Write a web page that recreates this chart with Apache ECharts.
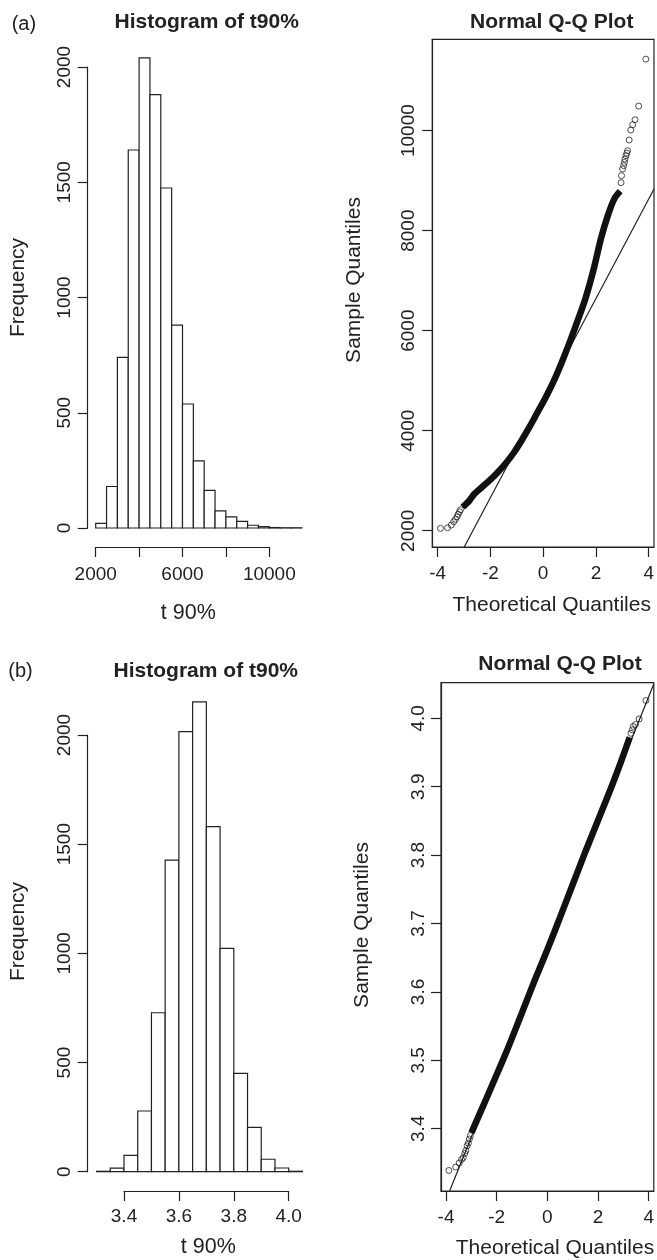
<!DOCTYPE html>
<html>
<head>
<meta charset="utf-8">
<script src="https://cdn.jsdelivr.net/npm/echarts@6/dist/echarts.min.js"></script>
<style>
html,body{margin:0;padding:0;background:#fff;}
#c{width:657px;height:1260px;}
</style>
</head>
<body>
<div id="c"></div>
<script>
// ---------------- DATA ----------------
// (a) histogram of t90%
const histA_edges = [2000,2500,3000,3500,4000,4500,5000,5500,6000,6500,7000,7500,8000,8500,9000,9500,10000,10500,11000,11500];
const histA_counts = [20,180,740,1640,2040,1880,1475,880,538,291,163,74,48,29,12,6,2,1,1];
const histA_xTicks = [2000,4000,6000,8000,10000];
const histA_xLabels = [2000,6000,10000];
const hist_yTicks = [0,500,1000,1500,2000];

// (b) histogram of t90% (log scale values)
const histB_edges = [3.30,3.35,3.40,3.45,3.50,3.55,3.60,3.65,3.70,3.75,3.80,3.85,3.90,3.95,4.00,4.05];
const histB_counts = [2,16,75,278,728,1427,2015,2152,1580,1023,450,203,57,17,2];
const histB_xTicks = [3.4,3.6,3.8,4.0];

// (a) Normal Q-Q: dense band (theoretical, sample) and sparse tail points
const qqA_bandQ = [-3.05,-2.8,-2.6,-2.3,-2.0,-1.7,-1.4,-1.1,-0.8,-0.5,-0.2,0.1,0.4,0.7,1.0,1.3,1.6,1.9,2.2,2.45,2.7,2.92];
const qqA_bandS = [2470,2600,2740,2880,3020,3180,3360,3570,3820,4090,4380,4670,4990,5360,5760,6190,6640,7200,7860,8300,8640,8790];
const qqA_tailQ = [-3.89,-3.62,-3.48,-3.39,-3.32,-3.26,-3.22,-3.17,-3.13,2.95,2.97,3.01,3.05,3.08,3.10,3.14,3.17,3.20,3.26,3.32,3.39,3.48,3.62,3.89];
const qqA_tailS = [2048,2060,2114,2180,2230,2280,2330,2380,2420,8960,9100,9234,9300,9365,9430,9499,9550,9599,9812,10012,10118,10218,10491,11429];
const qqA_lineQ = [-2.99,4.2];
const qqA_lineS = [1675,8834];
const qqA_xTicks = [-4,-2,0,2,4];
const qqA_yTicks = [2000,4000,6000,8000,10000];

// (b) Normal Q-Q
const qqB_bandQ = [-3.0,-2.6,-2.2,-1.6,-1.0,-0.5,0,0.5,1.0,1.5,2.0,2.5,2.9,3.25];
const qqB_bandS = [3.394,3.428,3.462,3.514,3.570,3.617,3.662,3.709,3.757,3.805,3.851,3.897,3.936,3.972];
const qqB_tailQ = [-3.89,-3.62,-3.48,-3.39,-3.32,-3.26,-3.22,-3.17,-3.12,-3.08,-3.04,3.30,3.35,3.39,3.48,3.62,3.89];
const qqB_tailS = [3.339,3.344,3.350,3.355,3.358,3.364,3.368,3.375,3.379,3.385,3.390,3.978,3.983,3.988,3.991,3.999,4.026];
const qqB_lineQ = [-3.86,4.2];
const qqB_lineS = [3.309,4.050];
const qqB_xTicks = [-4,-2,0,2,4];
const qqB_yTicks = [3.4,3.5,3.6,3.7,3.8,3.9,4.0];

// ---------------- CHART ----------------
const FONT = '"Liberation Sans", Arial, Helvetica, sans-serif';
const INK = '#222';
const chart = echarts.init(document.getElementById('c'), null, {renderer: 'canvas'});
const zip = (a, b) => a.map((v, i) => [v, b[i]]);

function histSeries(edges, counts, gi) {
  return {
    type: 'custom', xAxisIndex: gi, yAxisIndex: gi, clip: false,
    data: counts.map((c, i) => [edges[i], edges[i + 1], c]),
    encode: {x: [0, 1], y: 2},
    renderItem(params, api) {
      const p0 = api.coord([api.value(0), api.value(2)]);
      const p1 = api.coord([api.value(1), 0]);
      return {
        type: 'rect',
        shape: {x: p0[0], y: p0[1], width: p1[0] - p0[0], height: p1[1] - p0[1]},
        style: {fill: '#fff', stroke: INK, lineWidth: 1.2}
      };
    }
  };
}

function xAxisDef(gi, min, max, ticks, labels, offset, margin, fmt) {
  return {
    gridIndex: gi, type: 'value', min, max, offset, position: 'bottom',
    axisLine: {show: true, onZero: false, lineStyle: {color: INK, width: 1.2}},
    axisTick: {show: true, inside: false, length: 10, customValues: ticks, lineStyle: {color: INK, width: 1.2}},
    axisLabel: {customValues: labels, fontSize: 19, color: INK, margin, fontFamily: FONT, formatter: fmt},
    splitLine: {show: false}
  };
}
function yAxisDef(gi, min, max, ticks, offset, margin, fmt) {
  return {
    gridIndex: gi, type: 'value', min, max, offset, position: 'left',
    axisLine: {show: true, onZero: false, lineStyle: {color: INK, width: 1.2}},
    axisTick: {show: true, inside: false, length: 10, customValues: ticks, lineStyle: {color: INK, width: 1.2}},
    axisLabel: {customValues: ticks, rotate: 90, fontSize: 19, color: INK, margin, fontFamily: FONT, formatter: fmt},
    splitLine: {show: false}
  };
}

const intFmt = v => String(Math.round(v));
const dec1 = v => v.toFixed(1);

function txt(text, x, y, size, weight, align, rot) {
  return {
    type: 'text', x, y, rotation: rot ? Math.PI / 2 : 0, silent: true,
    style: {text, fill: INK, fontSize: size, fontWeight: weight, fontFamily: FONT,
            align, verticalAlign: 'middle', textAlign: align, textVerticalAlign: 'middle'}
  };
}

const option = {
  animation: false,
  backgroundColor: '#fff',
  textStyle: {fontFamily: FONT},
  grid: [
    {left: 95.7, top: 67, width: 173.6, height: 461},
    {left: 432.3, top: 39.3, width: 222.7, height: 507.7, show: true, borderColor: INK, borderWidth: 1.2, backgroundColor: 'transparent'},
    {left: 124, top: 735, width: 164.7, height: 436.7},
    {left: 441, top: 682.7, width: 221.5, height: 508.3, show: true, borderColor: INK, borderWidth: 1.2, backgroundColor: 'transparent'}
  ],
  xAxis: [
    xAxisDef(0, 2000, 10000, histA_xTicks, histA_xLabels, 19, 18, intFmt),
    xAxisDef(1, -4.2, 4.2, qqA_xTicks, qqA_xTicks, 0, 17, intFmt),
    xAxisDef(2, 3.4, 4.0, histB_xTicks, histB_xTicks, 19.3, 16, dec1),
    xAxisDef(3, -4.2, 4.2, qqB_xTicks, qqB_xTicks, 0, 17.5, intFmt)
  ],
  yAxis: [
    yAxisDef(0, 0, 2000, hist_yTicks, 8, 13, intFmt),
    yAxisDef(1, 1675, 11826, qqA_yTicks, 0, 14, intFmt),
    yAxisDef(2, 0, 2000, hist_yTicks, 36.3, 13, intFmt),
    yAxisDef(3, 3.309, 4.052, qqB_yTicks, 0, 13, dec1)
  ],
  series: [
    histSeries(histA_edges, histA_counts, 0),
    {type: 'line', xAxisIndex: 1, yAxisIndex: 1, data: zip(qqA_lineQ, qqA_lineS), showSymbol: false, symbol: 'none',
     lineStyle: {color: INK, width: 1.2}},
    {type: 'line', xAxisIndex: 1, yAxisIndex: 1, data: zip(qqA_bandQ, qqA_bandS), showSymbol: false, symbol: 'none', smooth: 0.3,
     lineStyle: {color: '#111', width: 6.5}},
    {type: 'scatter', xAxisIndex: 1, yAxisIndex: 1, data: zip(qqA_tailQ, qqA_tailS), symbol: 'circle', symbolSize: 6,
     itemStyle: {color: 'rgba(0,0,0,0)', borderColor: INK, borderWidth: 1}},
    histSeries(histB_edges, histB_counts, 2),
    {type: 'line', xAxisIndex: 3, yAxisIndex: 3, data: zip(qqB_lineQ, qqB_lineS), showSymbol: false, symbol: 'none',
     lineStyle: {color: INK, width: 1.2}},
    {type: 'line', xAxisIndex: 3, yAxisIndex: 3, data: zip(qqB_bandQ, qqB_bandS), showSymbol: false, symbol: 'none', smooth: 0.3,
     lineStyle: {color: '#111', width: 6.5}},
    {type: 'scatter', xAxisIndex: 3, yAxisIndex: 3, data: zip(qqB_tailQ, qqB_tailS), symbol: 'circle', symbolSize: 6,
     itemStyle: {color: 'rgba(0,0,0,0)', borderColor: INK, borderWidth: 1}}
  ],
  graphic: [
    txt('(a)', 11.7, 24, 20, 'normal', 'left', false),
    txt('Histogram of t90%', 206.7, 22.5, 21, 'bold', 'center', false),
    txt('Normal Q-Q Plot', 551.7, 22.5, 21, 'bold', 'center', false),
    txt('Frequency', 18.3, 287.5, 21, 'normal', 'center', true),
    txt('t 90%', 188.3, 613, 21.5, 'normal', 'center', false),
    txt('Sample Quantiles', 354, 280, 21, 'normal', 'center', true),
    txt('Theoretical Quantiles', 551.7, 605, 21, 'normal', 'center', false),
    txt('(b)', 8.3, 671, 20, 'normal', 'left', false),
    txt('Histogram of t90%', 205.8, 670.8, 21, 'bold', 'center', false),
    txt('Normal Q-Q Plot', 560, 664, 21, 'bold', 'center', false),
    txt('Frequency', 18.3, 931.5, 21, 'normal', 'center', true),
    txt('t 90%', 208.3, 1247, 21.5, 'normal', 'center', false),
    txt('Sample Quantiles', 362.5, 925, 21, 'normal', 'center', true),
    txt('Theoretical Quantiles', 555, 1248, 21, 'normal', 'center', false)
  ]
};
chart.setOption(option);
</script>
</body>
</html>
